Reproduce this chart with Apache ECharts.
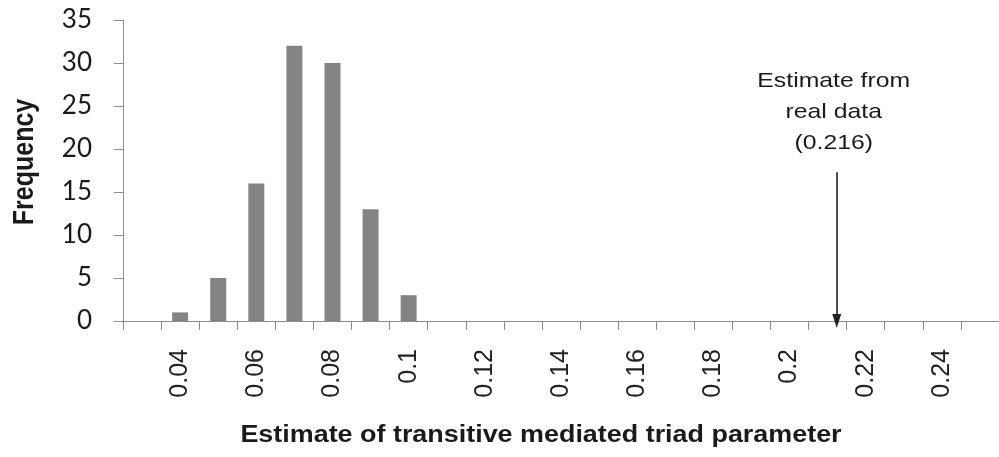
<!DOCTYPE html>
<html><head><meta charset="utf-8">
<script src="https://cdn.jsdelivr.net/npm/echarts@6/dist/echarts.min.js"></script>
<style>html,body{margin:0;padding:0;background:#fff}#c{width:999px;height:457px}</style>
</head><body><div id="c"></div>
<script>
const categories = ['0.03','0.04','0.05','0.06','0.07','0.08','0.09','0.1','0.11','0.12','0.13','0.14','0.15','0.16','0.17','0.18','0.19','0.2','0.21','0.22','0.23','0.24','0.25'];
const frequency = [0,1,5,16,32,30,13,3,0,0,0,0,0,0,0,0,0,0,0,0,0,0,0];
const yTicks = [0,5,10,15,20,25,30,35];
const arrowX = 0.2124;      // arrow position on the x scale (as drawn)
const arrowTop = 17.3;      // arrow tail height in frequency units
const annotationLines = ['Estimate from', 'real data', '(0.216)'];
const xTitle = 'Estimate of transitive mediated triad parameter';
const yTitle = 'Frequency';

const chart = echarts.init(document.getElementById('c'));
const axisGray = '#8c8c8c';
chart.setOption({
  animation: false,
  grid: { left: 123, top: 20, height: 301, width: 881 },
  xAxis: [{
    type: 'category', data: categories, boundaryGap: true,
    axisLine: { lineStyle: { color: axisGray, width: 1 } },
    axisTick: { show: true, interval: 0, length: 9, lineStyle: { color: axisGray } },
    axisLabel: { interval: (i) => i % 2 === 1, rotate: 90, margin: 28, color: '#222',
      fontFamily: 'Liberation Sans', fontSize: 25 }
  }, {
    type: 'value', min: 0.025, max: 0.255, show: false
  }],
  yAxis: {
    type: 'value', min: 0, max: 35, interval: 5,
    axisLine: { show: true, lineStyle: { color: axisGray } },
    axisTick: { show: true, length: 9, lineStyle: { color: axisGray } },
    splitLine: { show: false },
    axisLabel: { margin: 31, color: '#1a1a1a', fontFamily: 'Lato', fontSize: 26,
      formatter: (v) => yTicks.includes(v) ? String(v) : '' }
  },
  series: [{
    type: 'bar', data: frequency, barWidth: 16,
    itemStyle: { color: '#848484', borderWidth: 0 }
  }, {
    type: 'line', xAxisIndex: 1, symbol: 'none', data: [],
    lineStyle: { opacity: 0 },
    markLine: {
      silent: true, symbol: ['none', 'triangle'], symbolSize: [9, 14],
      lineStyle: { color: '#222', width: 1.6, type: 'solid' },
      label: { show: false },
      data: [[{ coord: [arrowX, arrowTop] }, { coord: [arrowX, 0] }]]
    }
  }]
});

const px = chart.convertToPixel({ xAxisIndex: 1, yAxisIndex: 0 }, [arrowX, arrowTop]);
chart.setOption({
  graphic: [{
    type: 'text', x: px[0] - 3, y: px[1] - 14, scaleX: 1.18,
    style: { text: annotationLines.join('\n'), align: 'center', verticalAlign: 'bottom',
      fontFamily: 'Liberation Sans', fontSize: 21, lineHeight: 31, fill: '#1a1a1a' }
  }, {
    type: 'text', x: 541, y: 436, scaleX: 1.17,
    style: { text: xTitle, align: 'center', verticalAlign: 'middle',
      fontFamily: 'Liberation Sans', fontWeight: 'bold', fontSize: 23, fill: '#1a1a1a' }
  }, {
    type: 'text', x: 25, y: 162, rotation: Math.PI / 2, scaleY: 1.17,
    style: { text: yTitle, align: 'center', verticalAlign: 'middle',
      fontFamily: 'Liberation Sans', fontWeight: 'bold', fontSize: 25, fill: '#1a1a1a' }
  }]
});
</script></body></html>
